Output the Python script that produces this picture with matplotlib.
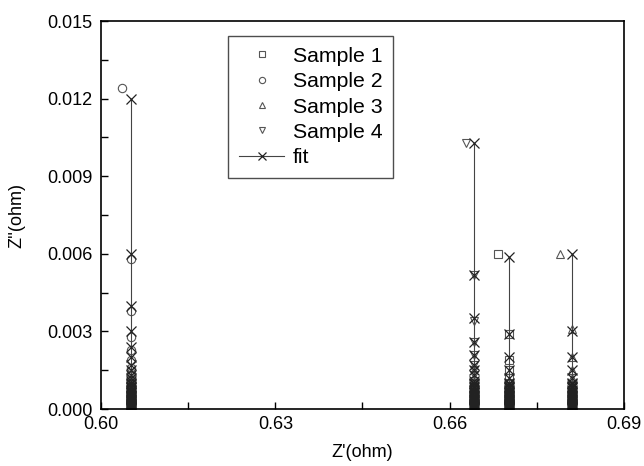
import matplotlib
matplotlib.use("Agg")
import matplotlib.pyplot as plt
from matplotlib.ticker import MultipleLocator, FormatStrFormatter

plt.rcParams['font.family'] = ['Liberation Sans', 'DejaVu Sans']

# Shared dense low-frequency tail of Z'' values (ohm)
tail = [0.00095, 0.00090, 0.00085, 0.00080, 0.00075, 0.00070, 0.00065, 0.00060,
        0.00055, 0.00050, 0.00046, 0.00042, 0.00038, 0.00034, 0.00030, 0.00027,
        0.00024, 0.00021, 0.00018, 0.00015, 0.00012, 0.00010, 0.00008, 0.00006,
        0.00004, 0.00002, 0.00001]

# Sample data: top values, then tail
s1_zi = [0.0060, 0.0029, 0.0019, 0.0015, 0.0012, 0.0010] + tail
s2_zi = [0.0124, 0.0058, 0.0038, 0.0028, 0.0023, 0.0019, 0.0016, 0.0014, 0.0013, 0.0012, 0.0011, 0.0010] + tail
s3_zi = [0.0060, 0.0031, 0.0020, 0.0015, 0.0012, 0.0010] + tail
s4_zi = [0.0103, 0.0052, 0.0034, 0.0026, 0.0021, 0.0017, 0.0015, 0.0013, 0.0011, 0.0010] + tail

s1_top_zr, s1_zr = 0.6683, 0.6702
s2_top_zr, s2_zr = 0.6036, 0.6052
s3_top_zr, s3_zr = 0.6791, 0.6810
s4_top_zr, s4_zr = 0.6629, 0.6642

# Fit values
f1_zi = [0.00586, 0.0029, 0.0020, 0.0015, 0.0012, 0.0010] + tail
f2_zi = [0.0120, 0.0060, 0.0040, 0.0030, 0.0024, 0.0020, 0.0017, 0.0015, 0.0013, 0.0012, 0.0011, 0.0010] + tail
f3_zi = [0.0060, 0.0030, 0.0020, 0.0015, 0.0012, 0.0010] + tail
f4_zi = [0.0103, 0.0052, 0.0035, 0.0026, 0.0021, 0.0017, 0.0015, 0.0013, 0.0011, 0.0010] + tail

fig = plt.figure(figsize=(6.44, 4.66), dpi=100)
ax = fig.add_axes([0.1570, 0.1223, 0.8116, 0.8326])

mk = dict(linestyle='none', markerfacecolor='none', markeredgecolor='#555555',
          markeredgewidth=0.8, markersize=6)

samples = [
    ('Sample 1', 's', s1_top_zr, s1_zr, s1_zi),
    ('Sample 2', 'o', s2_top_zr, s2_zr, s2_zi),
    ('Sample 3', '^', s3_top_zr, s3_zr, s3_zi),
    ('Sample 4', 'v', s4_top_zr, s4_zr, s4_zi),
]
for name, m, ztop, zr, zi in samples:
    xs = [ztop] + [zr] * (len(zi) - 1)
    ax.plot(xs, zi, marker=m, label=name, **mk)

fits = [(s1_zr, f1_zi), (s2_zr, f2_zi), (s3_zr, f3_zi), (s4_zr, f4_zi)]
for i, (zr, zi) in enumerate(fits):
    ax.plot([zr] * len(zi), zi, color='#444444', linewidth=0.8, marker='x',
            markersize=7, markeredgewidth=0.9, markeredgecolor='#222222',
            label='fit' if i == 0 else None)

ax.set_xlim(0.60, 0.69)
ax.set_ylim(0.0, 0.015)
ax.xaxis.set_major_locator(MultipleLocator(0.03))
ax.xaxis.set_minor_locator(MultipleLocator(0.015))
ax.yaxis.set_major_locator(MultipleLocator(0.003))
ax.yaxis.set_minor_locator(MultipleLocator(0.0015))
ax.xaxis.set_major_formatter(FormatStrFormatter('%.2f'))
ax.yaxis.set_major_formatter(FormatStrFormatter('%.3f'))
ax.tick_params(which='both', direction='in', top=False, right=False,
               labelsize=13, width=1.0)
ax.tick_params(axis='y', which='both', pad=6)
ax.tick_params(axis='x', which='both', pad=5)
ax.tick_params(which='major', length=5)
ax.tick_params(which='minor', length=5)
for sp in ax.spines.values():
    sp.set_linewidth(1.2)

ax.set_xlabel("Z'(ohm)", fontsize=13, labelpad=8)
ax.set_ylabel("Z''(ohm)", fontsize=13, labelpad=16)

leg = ax.legend(loc='upper left', bbox_to_anchor=(0.243, 0.961), fontsize=15.3,
                frameon=True, fancybox=False, edgecolor='#222222',
                handlelength=2.15, borderpad=0.5, labelspacing=0.3,
                handletextpad=0.4, borderaxespad=0.0, markerscale=0.75)
leg.get_frame().set_linewidth(1.0)

fig.savefig('out.png', dpi=100)
